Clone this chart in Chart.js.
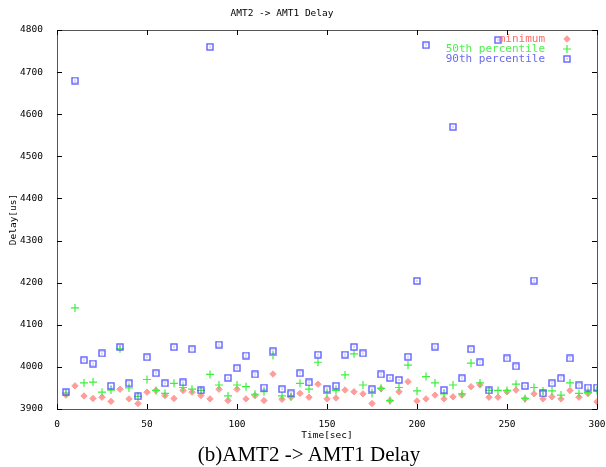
<!DOCTYPE html>
<html>
<head>
<meta charset="utf-8">
<script src="https://cdn.jsdelivr.net/npm/chart.js@4"></script>
<style>
  body { margin: 0; background: #fff; }
  #wrap { position: relative; width: 606px; height: 467px; }
  #caption { position: absolute; left: 0; top: 442px; width: 618px; text-align: center;
             font-family: "Liberation Serif", serif; font-size: 21px; color: #000; }
</style>
</head>
<body>
<div id="wrap">
  <canvas id="chart" width="606" height="467"></canvas>
  <div id="caption">(b)AMT2 -&gt; AMT1 Delay</div>
</div>
<script>
// time of each sample (sec)
const times = [5,10,15,20,25,30,35,40,45,50,55,60,65,70,75,80,85,90,95,100,
  105,110,115,120,125,130,135,140,145,150,155,160,165,170,175,180,185,190,195,200,
  205,210,215,220,225,230,235,240,245,250,255,260,265,270,275,280,285,290,295,300];

// delay [us]
const minimum = [3933,3955,3931,3925,3928,3918,3947,3924,3913,3940,3944,3932,3925,3944,3940,3932,3924,3947,3920,3947,
  3924,3932,3920,3983,3923,3928,3937,3928,3959,3924,3926,3945,3941,3936,3913,3948,3920,3941,3965,3919,
  3924,3933,3924,3929,3933,3953,3957,3928,3928,3941,3945,3924,3936,3924,3929,3924,3944,3928,3937,3917];
const p50 = [3938,4140,3962,3964,3940,3945,4043,3950,3930,3970,3944,3937,3961,3951,3947,3944,3982,3957,3931,3957,
  3953,3935,3941,4027,3931,3929,3961,3947,4011,3937,3944,3981,4031,3957,3937,3949,3920,3951,4004,3943,
  3977,3962,3936,3957,3936,4009,3962,3944,3944,3944,3959,3925,3951,3943,3943,3933,3962,3937,3939,3944];
const p90 = [3940,4680,4016,4008,4032,3955,4047,3961,3930,4023,3985,3961,4047,3963,4042,3944,4760,4053,3974,3997,
  4027,3982,3951,4037,3947,3937,3985,3963,4029,3947,3955,4029,4047,4032,3947,3982,3974,3969,4024,4204,
  4764,4048,3945,4570,3973,4042,4011,3944,4776,4020,4001,3955,4205,3937,3961,3973,4020,3956,3951,3951];

const seriesNames = ['minimum', '50th percentile', '90th percentile'];
const xTicks = [0,50,100,150,200,250,300];
const yTicks = [3900,4000,4100,4200,4300,4400,4500,4600,4700,4800];

const mono = 'DejaVu Sans Mono';

function pts(vals){
  return vals.map((v,i)=>({x: times[i], y: v}));
}

// hollow square with a dot, like gnuplot's box point
function boxPoint(){
  let c = document.createElement('canvas');
  c.width = 8; c.height = 8;
  let g = c.getContext('2d');
  g.strokeStyle = 'rgba(80,80,255,0.9)';
  g.lineWidth = 1.4;
  g.strokeRect(1, 1, 6, 6);
  g.fillStyle = '#5a5aff';
  g.fillRect(3.5, 3.5, 1, 1);
  return c;
}
const boxImg = boxPoint();

const frame = {
  id: 'frame',
  afterDraw(chart){
    const ctx = chart.ctx;
    const a = chart.chartArea;
    const sx = chart.scales.x, sy = chart.scales.y;
    ctx.save();
    ctx.strokeStyle = '#555';
    ctx.lineWidth = 1;
    ctx.strokeRect(a.left + 0.5, a.top + 0.5, a.right - a.left, a.bottom - a.top);
    ctx.strokeStyle = '#000';
    ctx.beginPath();
    xTicks.forEach(t=>{
      let px = Math.round(sx.getPixelForValue(t)) + 0.5;
      ctx.moveTo(px, a.bottom); ctx.lineTo(px, a.bottom - 5);
      ctx.moveTo(px, a.top); ctx.lineTo(px, a.top + 5);
    });
    yTicks.forEach(t=>{
      let py = Math.round(sy.getPixelForValue(t)) + 0.5;
      ctx.moveTo(a.left, py); ctx.lineTo(a.left + 5, py);
      ctx.moveTo(a.right, py); ctx.lineTo(a.right - 5, py);
    });
    ctx.stroke();

    // title
    ctx.fillStyle = '#000';
    ctx.font = '9.5px "' + mono + '"';
    ctx.textAlign = 'center';
    ctx.textBaseline = 'middle';
    ctx.fillText('AMT2 -> AMT1 Delay', 282, 14);

    // legend, text right aligned with marker to the right
    ctx.font = '11px "' + mono + '"';
    ctx.textAlign = 'right';
    chart.data.datasets.forEach((ds,i)=>{
      let y = 39 + i*10;
      ctx.fillStyle = ds.legendColor;
      ctx.fillText(ds.label, 545, y);
      ctx.strokeStyle = ds.borderColor;
      ctx.fillStyle = ds.backgroundColor;
      ctx.lineWidth = ds.borderWidth;
      Chart.helpers.drawPoint(ctx, {
        pointStyle: ds.pointStyle, radius: ds.pointRadius, rotation: 0,
        borderWidth: ds.borderWidth
      }, 567, y);
    });
    ctx.restore();
  }
};

new Chart(document.getElementById('chart'), {
  type: 'scatter',
  data: {
    datasets: [
      { label: seriesNames[0], data: pts(minimum), pointStyle: 'rectRot', pointRadius: 3.2,
        backgroundColor: 'rgba(255,140,140,0.85)', borderColor: '#ff9a9a', borderWidth: 1,
        legendColor: '#ff6a6a', order: 3 },
      { label: seriesNames[1], data: pts(p50), pointStyle: 'cross', pointRadius: 4,
        backgroundColor: '#3cf03c', borderColor: '#3cf03c', borderWidth: 1.2,
        legendColor: '#4cf04c', order: 2 },
      { label: seriesNames[2], data: pts(p90), pointStyle: boxImg, pointRadius: 4,
        backgroundColor: 'rgba(0,0,0,0)', borderColor: '#5a5aff', borderWidth: 1,
        legendColor: '#6a6af0', order: 1 }
    ]
  },
  options: {
    responsive: false,
    animation: false,
    layout: { padding: { left: 0, top: 30, right: 9, bottom: 26 } },
    plugins: { legend: { display: false }, tooltip: { enabled: false } },
    scales: {
      x: {
        type: 'linear', min: 0, max: 300,
        afterBuildTicks: s => { s.ticks = xTicks.map(v=>({value: v})); },
        afterFit: s => { s.height = 32; s.paddingLeft = 0; s.paddingRight = 0; },
        grid: { display: false }, border: { display: false },
        ticks: { padding: 2, color: '#000', font: { family: mono, size: 9.5 },
                 callback: v => String(v) },
        title: { display: true, text: 'Time[sec]', color: '#000', padding: { top: 0, bottom: 0 },
                 font: { family: mono, size: 9.5 } }
      },
      y: {
        min: 3900, max: 4800,
        afterBuildTicks: s => { s.ticks = yTicks.map(v=>({value: v})); },
        afterFit: s => { s.width = 57; s.paddingTop = 0; s.paddingBottom = 0; },
        grid: { display: false }, border: { display: false },
        ticks: { padding: 6, color: '#000', font: { family: mono, size: 9.5 },
                 callback: v => String(v) },
        title: { display: true, text: 'Delay[us]', color: '#000', padding: { top: 8, bottom: 0 },
                 font: { family: mono, size: 9.5 } }
      }
    }
  },
  plugins: [frame]
});
</script>
</body>
</html>
